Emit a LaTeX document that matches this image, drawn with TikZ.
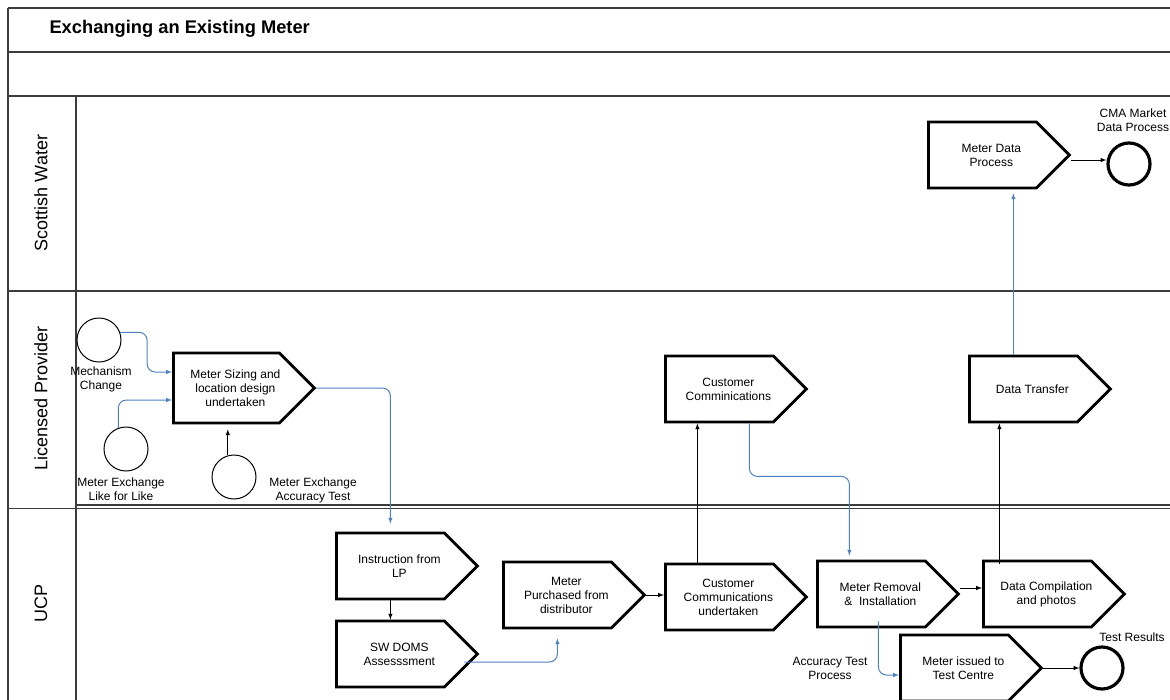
\documentclass[tikz,border=0pt]{standalone}
\usepackage{fontspec}
\setmainfont{Liberation Sans}
\usepackage{xcolor}
\usetikzlibrary{arrows}
\usetikzlibrary{calc}
\usetikzlibrary{shapes.symbols}

\definecolor{flowblue}{RGB}{79,129,189}
\definecolor{lanegray}{RGB}{60,60,60}

\tikzset{
  proc/.style={signal, signal to=east, signal pointer angle=90, draw, line width=2.8pt,
    minimum width=141pt, minimum height=66pt, inner sep=0pt, anchor=west,
    label={[lbl,xshift=9pt]center:{#1}}},
  evt/.style={circle, draw, line width=1pt, minimum size=44pt, inner sep=0pt},
  endevt/.style={circle, draw, line width=3.2pt, minimum size=42pt, inner sep=0pt},
  lbl/.style={align=center, font=\fontsize{12}{14}\selectfont},
  lane/.style={rotate=90, font=\fontsize{18}{20}\selectfont},
  flow/.style={-latex, flowblue, line width=1pt, rounded corners=8pt},
  seq/.style={-latex, black, line width=1pt},
  frame/.style={lanegray, line width=1.4pt}
}

\begin{document}
\begin{tikzpicture}[x=1pt,y=-1pt]
  \useasboundingbox (0,0) rectangle (1170,699);
  \clip (0,0) rectangle (1170,699);

  % pool and lanes
  \draw[frame,line width=2pt] (8,8) -- (1180,8);
  \draw[frame] (8,8) -- (8,710);
  \draw[frame] (8,52) -- (1180,52);
  \draw[frame] (8,96) -- (1180,96);
  \draw[frame] (8,291) -- (1180,291);
  \draw[frame] (76,96) -- (76,710);
  \draw[frame] (76,505) -- (1180,505);
  \draw[frame] (8,508.5) -- (1180,508.5);

  \node[anchor=west,font=\fontsize{18.3}{20}\selectfont\bfseries] (title) at (46,29) {Exchanging an Existing Meter};
  \node[lane] (sw) at (41,193) {Scottish Water};
  \node[lane] (lp) at (41,398) {Licensed Provider};
  \node[lane] (ucp) at (41,603) {UCP};

  % Licensed Provider
  \node[evt] (mech) at (99,340) {};
  \node[lbl] (mechl) at (101,379) {Mechanism\\Change};
  \node[evt] (like) at (126,449) {};
  \node[lbl] (likel) at (121,489) {Meter Exchange\\Like for Like};
  \node[evt] (acc) at (234,477) {};
  \node[lbl] (accl) at (313,490) {Meter Exchange\\Accuracy Test};
  \node[proc={Meter Sizing and\\location design\\undertaken},minimum height=70pt] (sizing) at (172,388) {};
  \node[proc={Customer\\Comminications}] (commlp) at (664,389) {};
  \node[proc={Data Transfer}] (transfer) at (968,389) {};

  % Scottish Water
  \node[proc={Meter Data\\Process}] (mdata) at (927,155) {};
  \node[endevt] (cma) at (1129,164) {};
  \node[lbl] (cmal) at (1133,120) {CMA Market\\Data Process};

  % UCP
  \node[proc={Instruction from\\LP}] (instr) at (335,566) {};
  \node[proc={SW DOMS\\Assesssment}] (doms) at (335,654) {};
  \node[proc={Meter\\Purchased from\\distributor}] (purch) at (502,595) {};
  \node[proc={Customer\\Communications\\undertaken}] (commu) at (664,597) {};
  \node[proc={Meter Removal\\\&\ \ Installation}] (remov) at (816,594) {};
  \node[proc={Data Compilation\\and photos}] (compil) at (982,594) {};
  \node[proc={Meter issued to\\Test Centre}] (issued) at (899,668) {};
  \node[endevt] (testres) at (1102,668) {};
  \node[lbl] (testresl) at (1132,637) {Test Results};
  \node[lbl] (accp) at (830,668) {Accuracy Test\\Process};

  % connectors
  \draw[flow] (mech.20) -- ++(27,0) |- ([yshift=16pt]sizing.west);
  \draw[flow] (like.110) |- ([yshift=-12pt]sizing.west);
  \draw[seq,shorten >=5pt] (acc.106) -- (acc.106 |- sizing.south);
  \draw[flow,shorten >=8pt] (sizing.east) -| (instr.north);
  \draw[seq] (instr.south) -- (doms.north);
  \draw[flow,shorten >=9pt] ([xshift=-15pt,yshift=-8pt]doms.east) -| (purch.south);
  \draw[seq] (purch.east) -- (purch.east -| commu.west);
  \draw[seq] ([xshift=-22pt]commu.north) -- ([xshift=-22pt]commlp.south);
  \draw[flow,shorten >=4pt] ([xshift=30pt]commlp.south) -- ++(0,53) -| ([xshift=-22pt]remov.north);
  \draw[seq] ([yshift=6pt]remov.east) -- ([yshift=6pt]remov.east -| compil.west);
  \draw[seq] ([xshift=-38pt,yshift=-4pt]compil.north) -- ([xshift=-38pt]compil.north |- transfer.south);
  \draw[flow,shorten >=4pt] ([xshift=-10pt]transfer.north) -- ([xshift=-10pt]transfer.north |- mdata.south);
  \draw[seq] ([yshift=-5pt]mdata.east) -- ([yshift=-5pt]mdata.east -| cma.west);
  \draw[flow] ([xshift=7pt,yshift=7pt]remov.south) |- ([yshift=-7pt]issued.west);
  \draw[seq] (issued.east) -- (testres.west);
\end{tikzpicture}
\end{document}
